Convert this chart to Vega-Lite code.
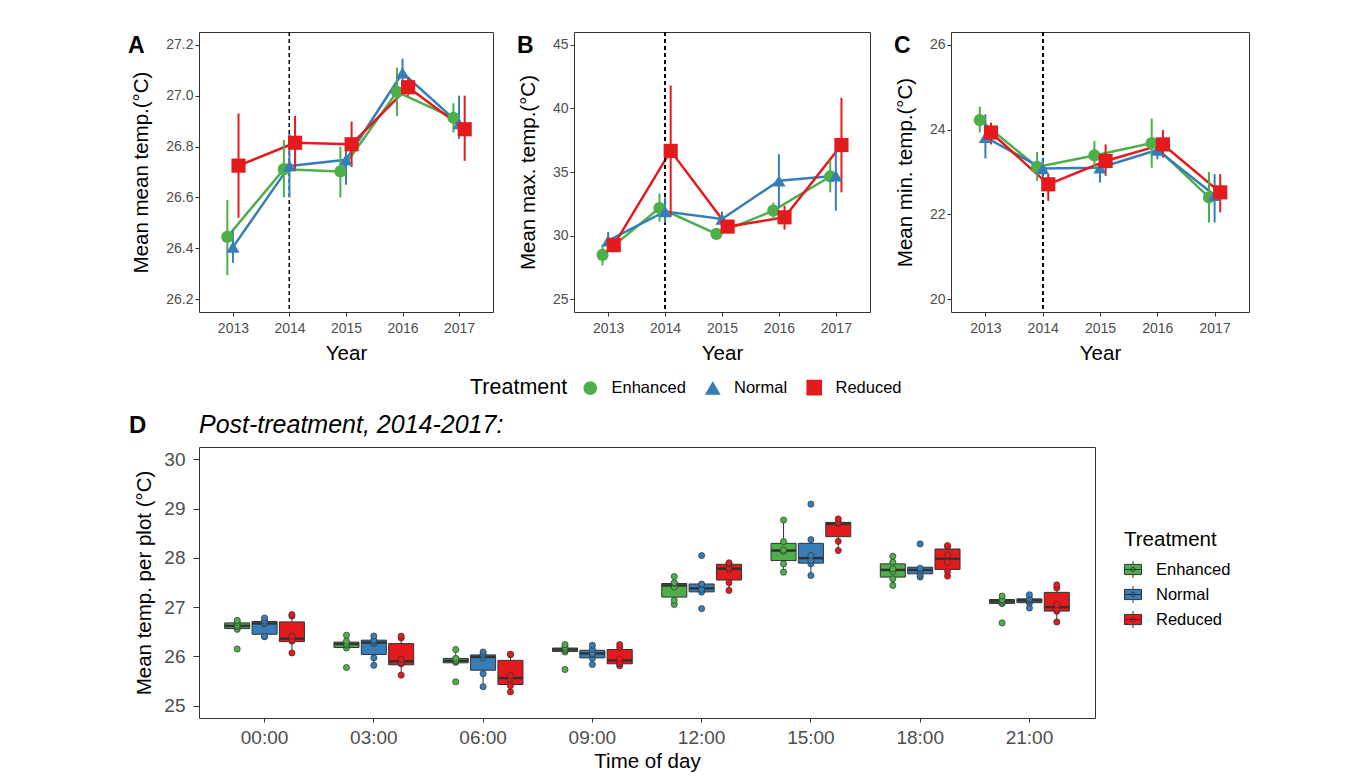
{
  "$schema": "https://vega.github.io/schema/vega-lite/v6.json",
  "padding": {"left": 127, "top": 31, "right": 5, "bottom": 2},
  "spacing": 13,
  "config": {
    "font": "Liberation Sans",
    "view": {"stroke": "#333333", "strokeWidth": 1},
    "axis": {"grid": false, "domain": false, "tickColor": "#333333", "tickSize": 4, "tickWidth": 1, "labelColor": "#4d4d4d", "labelFontSize": 14, "titleFontSize": 20.5, "titleFontWeight": "normal", "titleColor": "#000000", "labelFont": "Liberation Sans", "titleFont": "Liberation Sans"},
    "legend": {"labelFont": "Liberation Sans", "titleFont": "Liberation Sans"},
    "title": {"font": "Liberation Sans", "color": "#000000"}
  },
  "resolve": {"legend": {"color": "independent", "shape": "independent", "size": "independent", "fill": "independent"}, "scale": {"xOffset": "independent", "x": "independent", "y": "independent"}},
  "datasets": {
    "top": [
      {"panel": "A", "year": 2013, "Treatment": "Enhanced", "mean": 26.445, "lo": 26.295, "hi": 26.59},
      {"panel": "A", "year": 2013, "Treatment": "Normal", "mean": 26.405, "lo": 26.343, "hi": 26.47},
      {"panel": "A", "year": 2013, "Treatment": "Reduced", "mean": 26.725, "lo": 26.52, "hi": 26.93},
      {"panel": "A", "year": 2014, "Treatment": "Enhanced", "mean": 26.711, "lo": 26.6, "hi": 26.826},
      {"panel": "A", "year": 2014, "Treatment": "Normal", "mean": 26.724, "lo": 26.6, "hi": 26.852},
      {"panel": "A", "year": 2014, "Treatment": "Reduced", "mean": 26.815, "lo": 26.71, "hi": 26.92},
      {"panel": "A", "year": 2015, "Treatment": "Enhanced", "mean": 26.702, "lo": 26.6, "hi": 26.8},
      {"panel": "A", "year": 2015, "Treatment": "Normal", "mean": 26.748, "lo": 26.65, "hi": 26.81},
      {"panel": "A", "year": 2015, "Treatment": "Reduced", "mean": 26.809, "lo": 26.72, "hi": 26.898},
      {"panel": "A", "year": 2016, "Treatment": "Enhanced", "mean": 27.015, "lo": 26.92, "hi": 27.11},
      {"panel": "A", "year": 2016, "Treatment": "Normal", "mean": 27.09, "lo": 27.02, "hi": 27.145},
      {"panel": "A", "year": 2016, "Treatment": "Reduced", "mean": 27.033, "lo": 27.0, "hi": 27.07},
      {"panel": "A", "year": 2017, "Treatment": "Enhanced", "mean": 26.913, "lo": 26.855, "hi": 26.97},
      {"panel": "A", "year": 2017, "Treatment": "Normal", "mean": 26.89, "lo": 26.83, "hi": 27.0},
      {"panel": "A", "year": 2017, "Treatment": "Reduced", "mean": 26.868, "lo": 26.744, "hi": 27.0},
      {"panel": "B", "year": 2013, "Treatment": "Enhanced", "mean": 28.49, "lo": 27.66, "hi": 29.3},
      {"panel": "B", "year": 2013, "Treatment": "Normal", "mean": 29.6, "lo": 29.0, "hi": 30.3},
      {"panel": "B", "year": 2013, "Treatment": "Reduced", "mean": 29.25, "lo": 28.85, "hi": 29.65},
      {"panel": "B", "year": 2014, "Treatment": "Enhanced", "mean": 32.17, "lo": 31.1, "hi": 33.3},
      {"panel": "B", "year": 2014, "Treatment": "Normal", "mean": 31.9, "lo": 31.0, "hi": 33.0},
      {"panel": "B", "year": 2014, "Treatment": "Reduced", "mean": 36.66, "lo": 31.5, "hi": 41.8},
      {"panel": "B", "year": 2015, "Treatment": "Enhanced", "mean": 30.14, "lo": 29.85, "hi": 30.45},
      {"panel": "B", "year": 2015, "Treatment": "Normal", "mean": 31.31, "lo": 30.7, "hi": 31.9},
      {"panel": "B", "year": 2015, "Treatment": "Reduced", "mean": 30.71, "lo": 30.3, "hi": 31.1},
      {"panel": "B", "year": 2016, "Treatment": "Enhanced", "mean": 31.96, "lo": 31.3, "hi": 32.6},
      {"panel": "B", "year": 2016, "Treatment": "Normal", "mean": 34.31, "lo": 32.2, "hi": 36.39},
      {"panel": "B", "year": 2016, "Treatment": "Reduced", "mean": 31.44, "lo": 30.48, "hi": 32.35},
      {"panel": "B", "year": 2017, "Treatment": "Enhanced", "mean": 34.65, "lo": 33.4, "hi": 35.9},
      {"panel": "B", "year": 2017, "Treatment": "Normal", "mean": 34.7, "lo": 31.96, "hi": 37.4},
      {"panel": "B", "year": 2017, "Treatment": "Reduced", "mean": 37.12, "lo": 33.4, "hi": 40.83},
      {"panel": "C", "year": 2013, "Treatment": "Enhanced", "mean": 24.224, "lo": 23.93, "hi": 24.54},
      {"panel": "C", "year": 2013, "Treatment": "Normal", "mean": 23.82, "lo": 23.32, "hi": 24.36},
      {"panel": "C", "year": 2013, "Treatment": "Reduced", "mean": 23.93, "lo": 23.65, "hi": 24.16},
      {"panel": "C", "year": 2014, "Treatment": "Enhanced", "mean": 23.12, "lo": 22.79, "hi": 23.47},
      {"panel": "C", "year": 2014, "Treatment": "Normal", "mean": 23.08, "lo": 22.85, "hi": 23.34},
      {"panel": "C", "year": 2014, "Treatment": "Reduced", "mean": 22.71, "lo": 22.32, "hi": 22.95},
      {"panel": "C", "year": 2015, "Treatment": "Enhanced", "mean": 23.39, "lo": 23.07, "hi": 23.73},
      {"panel": "C", "year": 2015, "Treatment": "Normal", "mean": 23.1, "lo": 22.75, "hi": 23.38},
      {"panel": "C", "year": 2015, "Treatment": "Reduced", "mean": 23.26, "lo": 22.91, "hi": 23.65},
      {"panel": "C", "year": 2016, "Treatment": "Enhanced", "mean": 23.68, "lo": 23.1, "hi": 24.26},
      {"panel": "C", "year": 2016, "Treatment": "Normal", "mean": 23.52, "lo": 23.3, "hi": 23.73},
      {"panel": "C", "year": 2016, "Treatment": "Reduced", "mean": 23.65, "lo": 23.34, "hi": 23.99},
      {"panel": "C", "year": 2017, "Treatment": "Enhanced", "mean": 22.4, "lo": 21.81, "hi": 23.0},
      {"panel": "C", "year": 2017, "Treatment": "Normal", "mean": 22.45, "lo": 21.81, "hi": 22.95},
      {"panel": "C", "year": 2017, "Treatment": "Reduced", "mean": 22.52, "lo": 22.05, "hi": 22.95}
    ],
    "box": [
      {"time": "00:00", "Treatment": "Enhanced", "lo": 26.55, "q1": 26.565, "med": 26.62, "q3": 26.68, "hi": 26.73},
      {"time": "00:00", "Treatment": "Normal", "lo": 26.4, "q1": 26.45, "med": 26.67, "q3": 26.71, "hi": 26.78},
      {"time": "00:00", "Treatment": "Reduced", "lo": 26.07, "q1": 26.3, "med": 26.36, "q3": 26.7, "hi": 26.85},
      {"time": "03:00", "Treatment": "Enhanced", "lo": 26.17, "q1": 26.18, "med": 26.25, "q3": 26.29, "hi": 26.43},
      {"time": "03:00", "Treatment": "Normal", "lo": 25.82, "q1": 26.04, "med": 26.28, "q3": 26.33, "hi": 26.415},
      {"time": "03:00", "Treatment": "Reduced", "lo": 25.62, "q1": 25.83, "med": 25.9, "q3": 26.26, "hi": 26.41},
      {"time": "06:00", "Treatment": "Enhanced", "lo": 25.88, "q1": 25.87, "med": 25.91, "q3": 25.96, "hi": 26.13},
      {"time": "06:00", "Treatment": "Normal", "lo": 25.385, "q1": 25.72, "med": 25.99, "q3": 26.03, "hi": 26.09},
      {"time": "06:00", "Treatment": "Reduced", "lo": 25.28, "q1": 25.43, "med": 25.56, "q3": 25.92, "hi": 26.04},
      {"time": "09:00", "Treatment": "Enhanced", "lo": 26.09, "q1": 26.1, "med": 26.14, "q3": 26.17, "hi": 26.24},
      {"time": "09:00", "Treatment": "Normal", "lo": 25.836, "q1": 25.97, "med": 26.06, "q3": 26.125, "hi": 26.227},
      {"time": "09:00", "Treatment": "Reduced", "lo": 25.81, "q1": 25.85, "med": 25.92, "q3": 26.14, "hi": 26.24},
      {"time": "12:00", "Treatment": "Enhanced", "lo": 27.056, "q1": 27.204, "med": 27.44, "q3": 27.48, "hi": 27.622},
      {"time": "12:00", "Treatment": "Normal", "lo": 27.305, "q1": 27.31, "med": 27.38, "q3": 27.47, "hi": 27.467},
      {"time": "12:00", "Treatment": "Reduced", "lo": 27.34, "q1": 27.55, "med": 27.78, "q3": 27.87, "hi": 27.9},
      {"time": "15:00", "Treatment": "Enhanced", "lo": 27.71, "q1": 27.945, "med": 28.148, "q3": 28.295, "hi": 28.768},
      {"time": "15:00", "Treatment": "Normal", "lo": 27.642, "q1": 27.893, "med": 27.995, "q3": 28.295, "hi": 28.37},
      {"time": "15:00", "Treatment": "Reduced", "lo": 28.148, "q1": 28.43, "med": 28.69, "q3": 28.72, "hi": 28.79},
      {"time": "18:00", "Treatment": "Enhanced", "lo": 27.44, "q1": 27.61, "med": 27.755, "q3": 27.878, "hi": 28.033},
      {"time": "18:00", "Treatment": "Normal", "lo": 27.61, "q1": 27.676, "med": 27.755, "q3": 27.81, "hi": 27.79},
      {"time": "18:00", "Treatment": "Reduced", "lo": 27.63, "q1": 27.765, "med": 27.98, "q3": 28.18, "hi": 28.25},
      {"time": "21:00", "Treatment": "Enhanced", "lo": 27.07, "q1": 27.075, "med": 27.117, "q3": 27.155, "hi": 27.225},
      {"time": "21:00", "Treatment": "Normal", "lo": 27.083, "q1": 27.09, "med": 27.137, "q3": 27.168, "hi": 27.252},
      {"time": "21:00", "Treatment": "Reduced", "lo": 26.699, "q1": 26.92, "med": 27.0, "q3": 27.3, "hi": 27.454}
    ],
    "pts": [
      {"time": "00:00", "Treatment": "Enhanced", "value": 26.15}, {"time": "00:00", "Treatment": "Enhanced", "value": 26.55}, {"time": "00:00", "Treatment": "Enhanced", "value": 26.6}, {"time": "00:00", "Treatment": "Enhanced", "value": 26.63}, {"time": "00:00", "Treatment": "Enhanced", "value": 26.69}, {"time": "00:00", "Treatment": "Enhanced", "value": 26.73},
      {"time": "00:00", "Treatment": "Normal", "value": 26.4}, {"time": "00:00", "Treatment": "Normal", "value": 26.41}, {"time": "00:00", "Treatment": "Normal", "value": 26.66}, {"time": "00:00", "Treatment": "Normal", "value": 26.68}, {"time": "00:00", "Treatment": "Normal", "value": 26.72}, {"time": "00:00", "Treatment": "Normal", "value": 26.78},
      {"time": "00:00", "Treatment": "Reduced", "value": 26.07}, {"time": "00:00", "Treatment": "Reduced", "value": 26.31}, {"time": "00:00", "Treatment": "Reduced", "value": 26.33}, {"time": "00:00", "Treatment": "Reduced", "value": 26.41}, {"time": "00:00", "Treatment": "Reduced", "value": 26.82}, {"time": "00:00", "Treatment": "Reduced", "value": 26.85},
      {"time": "03:00", "Treatment": "Enhanced", "value": 25.775}, {"time": "03:00", "Treatment": "Enhanced", "value": 26.17}, {"time": "03:00", "Treatment": "Enhanced", "value": 26.23}, {"time": "03:00", "Treatment": "Enhanced", "value": 26.26}, {"time": "03:00", "Treatment": "Enhanced", "value": 26.31}, {"time": "03:00", "Treatment": "Enhanced", "value": 26.43},
      {"time": "03:00", "Treatment": "Normal", "value": 25.82}, {"time": "03:00", "Treatment": "Normal", "value": 25.97}, {"time": "03:00", "Treatment": "Normal", "value": 26.26}, {"time": "03:00", "Treatment": "Normal", "value": 26.295}, {"time": "03:00", "Treatment": "Normal", "value": 26.33}, {"time": "03:00", "Treatment": "Normal", "value": 26.415},
      {"time": "03:00", "Treatment": "Reduced", "value": 25.62}, {"time": "03:00", "Treatment": "Reduced", "value": 25.85}, {"time": "03:00", "Treatment": "Reduced", "value": 25.87}, {"time": "03:00", "Treatment": "Reduced", "value": 25.94}, {"time": "03:00", "Treatment": "Reduced", "value": 26.375}, {"time": "03:00", "Treatment": "Reduced", "value": 26.41},
      {"time": "06:00", "Treatment": "Enhanced", "value": 25.485}, {"time": "06:00", "Treatment": "Enhanced", "value": 25.88}, {"time": "06:00", "Treatment": "Enhanced", "value": 25.9}, {"time": "06:00", "Treatment": "Enhanced", "value": 25.92}, {"time": "06:00", "Treatment": "Enhanced", "value": 25.96}, {"time": "06:00", "Treatment": "Enhanced", "value": 26.14},
      {"time": "06:00", "Treatment": "Normal", "value": 25.385}, {"time": "06:00", "Treatment": "Normal", "value": 25.65}, {"time": "06:00", "Treatment": "Normal", "value": 25.97}, {"time": "06:00", "Treatment": "Normal", "value": 26.025}, {"time": "06:00", "Treatment": "Normal", "value": 26.04}, {"time": "06:00", "Treatment": "Normal", "value": 26.09},
      {"time": "06:00", "Treatment": "Reduced", "value": 25.28}, {"time": "06:00", "Treatment": "Reduced", "value": 25.405}, {"time": "06:00", "Treatment": "Reduced", "value": 25.54}, {"time": "06:00", "Treatment": "Reduced", "value": 25.61}, {"time": "06:00", "Treatment": "Reduced", "value": 26.035}, {"time": "06:00", "Treatment": "Reduced", "value": 26.045},
      {"time": "09:00", "Treatment": "Enhanced", "value": 25.735}, {"time": "09:00", "Treatment": "Enhanced", "value": 26.09}, {"time": "09:00", "Treatment": "Enhanced", "value": 26.125}, {"time": "09:00", "Treatment": "Enhanced", "value": 26.15}, {"time": "09:00", "Treatment": "Enhanced", "value": 26.19}, {"time": "09:00", "Treatment": "Enhanced", "value": 26.24},
      {"time": "09:00", "Treatment": "Normal", "value": 25.836}, {"time": "09:00", "Treatment": "Normal", "value": 25.96}, {"time": "09:00", "Treatment": "Normal", "value": 26.04}, {"time": "09:00", "Treatment": "Normal", "value": 26.06}, {"time": "09:00", "Treatment": "Normal", "value": 26.146}, {"time": "09:00", "Treatment": "Normal", "value": 26.227},
      {"time": "09:00", "Treatment": "Reduced", "value": 25.81}, {"time": "09:00", "Treatment": "Reduced", "value": 25.85}, {"time": "09:00", "Treatment": "Reduced", "value": 25.89}, {"time": "09:00", "Treatment": "Reduced", "value": 25.95}, {"time": "09:00", "Treatment": "Reduced", "value": 26.18}, {"time": "09:00", "Treatment": "Reduced", "value": 26.24},
      {"time": "12:00", "Treatment": "Enhanced", "value": 27.056}, {"time": "12:00", "Treatment": "Enhanced", "value": 27.137}, {"time": "12:00", "Treatment": "Enhanced", "value": 27.406}, {"time": "12:00", "Treatment": "Enhanced", "value": 27.48}, {"time": "12:00", "Treatment": "Enhanced", "value": 27.494}, {"time": "12:00", "Treatment": "Enhanced", "value": 27.622},
      {"time": "12:00", "Treatment": "Normal", "value": 26.97}, {"time": "12:00", "Treatment": "Normal", "value": 27.305}, {"time": "12:00", "Treatment": "Normal", "value": 27.36}, {"time": "12:00", "Treatment": "Normal", "value": 27.454}, {"time": "12:00", "Treatment": "Normal", "value": 27.467}, {"time": "12:00", "Treatment": "Normal", "value": 28.047},
      {"time": "12:00", "Treatment": "Reduced", "value": 27.34}, {"time": "12:00", "Treatment": "Reduced", "value": 27.494}, {"time": "12:00", "Treatment": "Reduced", "value": 27.764}, {"time": "12:00", "Treatment": "Reduced", "value": 27.79}, {"time": "12:00", "Treatment": "Reduced", "value": 27.88}, {"time": "12:00", "Treatment": "Reduced", "value": 27.9},
      {"time": "15:00", "Treatment": "Enhanced", "value": 27.71}, {"time": "15:00", "Treatment": "Enhanced", "value": 27.878}, {"time": "15:00", "Treatment": "Enhanced", "value": 28.13}, {"time": "15:00", "Treatment": "Enhanced", "value": 28.16}, {"time": "15:00", "Treatment": "Enhanced", "value": 28.33}, {"time": "15:00", "Treatment": "Enhanced", "value": 28.768},
      {"time": "15:00", "Treatment": "Normal", "value": 27.642}, {"time": "15:00", "Treatment": "Normal", "value": 27.878}, {"time": "15:00", "Treatment": "Normal", "value": 27.946}, {"time": "15:00", "Treatment": "Normal", "value": 28.047}, {"time": "15:00", "Treatment": "Normal", "value": 28.37}, {"time": "15:00", "Treatment": "Normal", "value": 29.09},
      {"time": "15:00", "Treatment": "Reduced", "value": 28.148}, {"time": "15:00", "Treatment": "Reduced", "value": 28.336}, {"time": "15:00", "Treatment": "Reduced", "value": 28.7}, {"time": "15:00", "Treatment": "Reduced", "value": 28.707}, {"time": "15:00", "Treatment": "Reduced", "value": 28.72}, {"time": "15:00", "Treatment": "Reduced", "value": 28.79},
      {"time": "18:00", "Treatment": "Enhanced", "value": 27.44}, {"time": "18:00", "Treatment": "Enhanced", "value": 27.575}, {"time": "18:00", "Treatment": "Enhanced", "value": 27.723}, {"time": "18:00", "Treatment": "Enhanced", "value": 27.777}, {"time": "18:00", "Treatment": "Enhanced", "value": 27.912}, {"time": "18:00", "Treatment": "Enhanced", "value": 28.033},
      {"time": "18:00", "Treatment": "Normal", "value": 27.61}, {"time": "18:00", "Treatment": "Normal", "value": 27.656}, {"time": "18:00", "Treatment": "Normal", "value": 27.73}, {"time": "18:00", "Treatment": "Normal", "value": 27.77}, {"time": "18:00", "Treatment": "Normal", "value": 27.79}, {"time": "18:00", "Treatment": "Normal", "value": 28.283},
      {"time": "18:00", "Treatment": "Reduced", "value": 27.63}, {"time": "18:00", "Treatment": "Reduced", "value": 27.723}, {"time": "18:00", "Treatment": "Reduced", "value": 27.912}, {"time": "18:00", "Treatment": "Reduced", "value": 28.06}, {"time": "18:00", "Treatment": "Reduced", "value": 28.23}, {"time": "18:00", "Treatment": "Reduced", "value": 28.25},
      {"time": "21:00", "Treatment": "Enhanced", "value": 26.68}, {"time": "21:00", "Treatment": "Enhanced", "value": 27.07}, {"time": "21:00", "Treatment": "Enhanced", "value": 27.1}, {"time": "21:00", "Treatment": "Enhanced", "value": 27.137}, {"time": "21:00", "Treatment": "Enhanced", "value": 27.15}, {"time": "21:00", "Treatment": "Enhanced", "value": 27.225},
      {"time": "21:00", "Treatment": "Normal", "value": 26.982}, {"time": "21:00", "Treatment": "Normal", "value": 27.083}, {"time": "21:00", "Treatment": "Normal", "value": 27.12}, {"time": "21:00", "Treatment": "Normal", "value": 27.15}, {"time": "21:00", "Treatment": "Normal", "value": 27.17}, {"time": "21:00", "Treatment": "Normal", "value": 27.252},
      {"time": "21:00", "Treatment": "Reduced", "value": 26.699}, {"time": "21:00", "Treatment": "Reduced", "value": 26.915}, {"time": "21:00", "Treatment": "Reduced", "value": 26.955}, {"time": "21:00", "Treatment": "Reduced", "value": 27.05}, {"time": "21:00", "Treatment": "Reduced", "value": 27.387}, {"time": "21:00", "Treatment": "Reduced", "value": 27.454}
    ]
  },
  "vconcat": [
    {
      "hconcat": [
        {
          "width": 294, "height": 280,
          "title": {"text": "A", "anchor": "start", "frame": "group", "fontSize": 23, "fontWeight": "bold", "offset": -44, "baseline": "alphabetic", "dx": -71},
          "data": {"name": "top"},
          "transform": [{"filter": "datum.panel === 'A'"}],
          "layer": [
            {"mark": {"type": "line", "strokeWidth": 2.5}, "encoding": {
              "x": {"field": "year", "type": "ordinal", "scale": {"type": "point", "padding": 0.6}, "axis": {"title": "Year", "labelAngle": 0, "labelPadding": 5, "titlePadding": 8}},
              "xOffset": {"field": "Treatment", "type": "nominal", "scale": {"type": "point", "range": [-5.6, 5.6], "padding": 0}},
              "y": {"field": "mean", "type": "quantitative", "scale": {"domain": [26.15, 27.25], "nice": false, "zero": false}, "axis": {"title": "Mean mean temp.(°C)", "values": [26.2, 26.4, 26.6, 26.8, 27.0, 27.2], "format": ".1f", "labelPadding": 2, "titlePadding": 14}},
              "color": {"field": "Treatment", "type": "nominal", "scale": {"domain": ["Enhanced", "Normal", "Reduced"], "range": ["#4DAF4A", "#377EB8", "#E41A1C"]}, "legend": {"orient": "none", "legendX": 271, "legendY": 347, "direction": "horizontal", "titleOrient": "left", "title": "Treatment", "titleFontSize": 21.5, "titleFontWeight": "normal", "titleColor": "#000000", "labelFontSize": 16.5, "labelColor": "#000000", "columnPadding": 16.5, "labelOffset": 13, "titlePadding": 14}}}},
            {"mark": {"type": "rule", "color": "#000000", "strokeDash": [4, 3], "strokeWidth": 1}, "encoding": {"x": {"datum": 2014, "type": "ordinal", "scale": {"type": "point", "padding": 0.6}}}},
            {"mark": {"type": "rule", "strokeWidth": 2}, "encoding": {"x": {"field": "year", "type": "ordinal", "scale": {"type": "point", "padding": 0.6}}, "xOffset": {"field": "Treatment", "type": "nominal", "scale": {"type": "point", "range": [-5.6, 5.6], "padding": 0}}, "y": {"field": "lo", "type": "quantitative"}, "y2": {"field": "hi"}, "color": {"field": "Treatment", "type": "nominal", "legend": {"orient": "none", "legendX": 271, "legendY": 347, "direction": "horizontal", "titleOrient": "left", "title": "Treatment", "titleFontSize": 21.5, "titleFontWeight": "normal", "titleColor": "#000000", "labelFontSize": 16.5, "labelColor": "#000000", "columnPadding": 16.5, "labelOffset": 13, "titlePadding": 14}}}},
            {"mark": {"type": "point", "filled": true, "opacity": 1}, "encoding": {"x": {"field": "year", "type": "ordinal", "scale": {"type": "point", "padding": 0.6}}, "xOffset": {"field": "Treatment", "type": "nominal", "scale": {"type": "point", "range": [-5.6, 5.6], "padding": 0}}, "y": {"field": "mean", "type": "quantitative"},
              "color": {"field": "Treatment", "type": "nominal", "legend": {"orient": "none", "legendX": 271, "legendY": 347, "direction": "horizontal", "titleOrient": "left", "title": "Treatment", "titleFontSize": 21.5, "titleFontWeight": "normal", "titleColor": "#000000", "labelFontSize": 16.5, "labelColor": "#000000", "columnPadding": 16.5, "labelOffset": 13, "titlePadding": 14}},
              "shape": {"field": "Treatment", "type": "nominal", "scale": {"domain": ["Enhanced", "Normal", "Reduced"], "range": ["circle", "triangle-up", "square"]}, "legend": {"orient": "none", "legendX": 271, "legendY": 347, "direction": "horizontal", "titleOrient": "left", "title": "Treatment", "titleFontSize": 21.5, "titleFontWeight": "normal", "titleColor": "#000000", "labelFontSize": 16.5, "labelColor": "#000000", "columnPadding": 16.5, "labelOffset": 13, "titlePadding": 14}},
              "size": {"field": "Treatment", "type": "nominal", "scale": {"domain": ["Enhanced", "Normal", "Reduced"], "range": [150, 200, 240]}, "legend": {"orient": "none", "legendX": 271, "legendY": 347, "direction": "horizontal", "titleOrient": "left", "title": "Treatment", "titleFontSize": 21.5, "titleFontWeight": "normal", "titleColor": "#000000", "labelFontSize": 16.5, "labelColor": "#000000", "columnPadding": 16.5, "labelOffset": 13, "titlePadding": 14}}}}
          ]
        },
        {
          "width": 296, "height": 280,
          "title": {"text": "B", "anchor": "start", "frame": "group", "fontSize": 23, "fontWeight": "bold", "offset": -44, "baseline": "alphabetic", "dx": -57},
          "data": {"name": "top"},
          "transform": [{"filter": "datum.panel === 'B'"}],
          "layer": [
            {"mark": {"type": "line", "strokeWidth": 2.5}, "encoding": {
              "x": {"field": "year", "type": "ordinal", "scale": {"type": "point", "padding": 0.6}, "axis": {"title": "Year", "labelAngle": 0, "labelPadding": 5, "titlePadding": 8}},
              "xOffset": {"field": "Treatment", "type": "nominal", "scale": {"type": "point", "range": [-5.6, 5.6], "padding": 0}},
              "y": {"field": "mean", "type": "quantitative", "scale": {"domain": [24, 46], "nice": false, "zero": false}, "axis": {"title": "Mean max. temp.(°C)", "values": [25, 30, 35, 40, 45], "labelPadding": 2, "titlePadding": 14}},
              "color": {"field": "Treatment", "type": "nominal", "scale": {"domain": ["Enhanced", "Normal", "Reduced"], "range": ["#4DAF4A", "#377EB8", "#E41A1C"]}, "legend": {"orient": "none", "legendX": 271, "legendY": 347, "direction": "horizontal", "titleOrient": "left", "title": "Treatment", "titleFontSize": 21.5, "titleFontWeight": "normal", "titleColor": "#000000", "labelFontSize": 16.5, "labelColor": "#000000", "columnPadding": 16.5, "labelOffset": 13, "titlePadding": 14}}}},
            {"mark": {"type": "rule", "color": "#000000", "strokeDash": [4, 3], "strokeWidth": 1}, "encoding": {"x": {"datum": 2014, "type": "ordinal", "scale": {"type": "point", "padding": 0.6}}}},
            {"mark": {"type": "rule", "strokeWidth": 2}, "encoding": {"x": {"field": "year", "type": "ordinal", "scale": {"type": "point", "padding": 0.6}}, "xOffset": {"field": "Treatment", "type": "nominal", "scale": {"type": "point", "range": [-5.6, 5.6], "padding": 0}}, "y": {"field": "lo", "type": "quantitative"}, "y2": {"field": "hi"}, "color": {"field": "Treatment", "type": "nominal", "legend": {"orient": "none", "legendX": 271, "legendY": 347, "direction": "horizontal", "titleOrient": "left", "title": "Treatment", "titleFontSize": 21.5, "titleFontWeight": "normal", "titleColor": "#000000", "labelFontSize": 16.5, "labelColor": "#000000", "columnPadding": 16.5, "labelOffset": 13, "titlePadding": 14}}}},
            {"mark": {"type": "point", "filled": true, "opacity": 1}, "encoding": {"x": {"field": "year", "type": "ordinal", "scale": {"type": "point", "padding": 0.6}}, "xOffset": {"field": "Treatment", "type": "nominal", "scale": {"type": "point", "range": [-5.6, 5.6], "padding": 0}}, "y": {"field": "mean", "type": "quantitative"},
              "color": {"field": "Treatment", "type": "nominal", "legend": {"orient": "none", "legendX": 271, "legendY": 347, "direction": "horizontal", "titleOrient": "left", "title": "Treatment", "titleFontSize": 21.5, "titleFontWeight": "normal", "titleColor": "#000000", "labelFontSize": 16.5, "labelColor": "#000000", "columnPadding": 16.5, "labelOffset": 13, "titlePadding": 14}},
              "shape": {"field": "Treatment", "type": "nominal", "scale": {"domain": ["Enhanced", "Normal", "Reduced"], "range": ["circle", "triangle-up", "square"]}, "legend": {"orient": "none", "legendX": 271, "legendY": 347, "direction": "horizontal", "titleOrient": "left", "title": "Treatment", "titleFontSize": 21.5, "titleFontWeight": "normal", "titleColor": "#000000", "labelFontSize": 16.5, "labelColor": "#000000", "columnPadding": 16.5, "labelOffset": 13, "titlePadding": 14}},
              "size": {"field": "Treatment", "type": "nominal", "scale": {"domain": ["Enhanced", "Normal", "Reduced"], "range": [150, 200, 240]}, "legend": {"orient": "none", "legendX": 271, "legendY": 347, "direction": "horizontal", "titleOrient": "left", "title": "Treatment", "titleFontSize": 21.5, "titleFontWeight": "normal", "titleColor": "#000000", "labelFontSize": 16.5, "labelColor": "#000000", "columnPadding": 16.5, "labelOffset": 13, "titlePadding": 14}}}}
          ]
        },
        {
          "width": 298, "height": 280,
          "title": {"text": "C", "anchor": "start", "frame": "group", "fontSize": 23, "fontWeight": "bold", "offset": -44, "baseline": "alphabetic", "dx": -57},
          "data": {"name": "top"},
          "transform": [{"filter": "datum.panel === 'C'"}],
          "layer": [
            {"mark": {"type": "line", "strokeWidth": 2.5}, "encoding": {
              "x": {"field": "year", "type": "ordinal", "scale": {"type": "point", "padding": 0.6}, "axis": {"title": "Year", "labelAngle": 0, "labelPadding": 5, "titlePadding": 8}},
              "xOffset": {"field": "Treatment", "type": "nominal", "scale": {"type": "point", "range": [-5.6, 5.6], "padding": 0}},
              "y": {"field": "mean", "type": "quantitative", "scale": {"domain": [19.7, 26.3], "nice": false, "zero": false}, "axis": {"title": "Mean min. temp.(°C)", "values": [20, 22, 24, 26], "labelPadding": 2, "titlePadding": 14}},
              "color": {"field": "Treatment", "type": "nominal", "scale": {"domain": ["Enhanced", "Normal", "Reduced"], "range": ["#4DAF4A", "#377EB8", "#E41A1C"]}, "legend": {"orient": "none", "legendX": 271, "legendY": 347, "direction": "horizontal", "titleOrient": "left", "title": "Treatment", "titleFontSize": 21.5, "titleFontWeight": "normal", "titleColor": "#000000", "labelFontSize": 16.5, "labelColor": "#000000", "columnPadding": 16.5, "labelOffset": 13, "titlePadding": 14}}}},
            {"mark": {"type": "rule", "color": "#000000", "strokeDash": [4, 3], "strokeWidth": 1}, "encoding": {"x": {"datum": 2014, "type": "ordinal", "scale": {"type": "point", "padding": 0.6}}}},
            {"mark": {"type": "rule", "strokeWidth": 2}, "encoding": {"x": {"field": "year", "type": "ordinal", "scale": {"type": "point", "padding": 0.6}}, "xOffset": {"field": "Treatment", "type": "nominal", "scale": {"type": "point", "range": [-5.6, 5.6], "padding": 0}}, "y": {"field": "lo", "type": "quantitative"}, "y2": {"field": "hi"}, "color": {"field": "Treatment", "type": "nominal", "legend": {"orient": "none", "legendX": 271, "legendY": 347, "direction": "horizontal", "titleOrient": "left", "title": "Treatment", "titleFontSize": 21.5, "titleFontWeight": "normal", "titleColor": "#000000", "labelFontSize": 16.5, "labelColor": "#000000", "columnPadding": 16.5, "labelOffset": 13, "titlePadding": 14}}}},
            {"mark": {"type": "point", "filled": true, "opacity": 1}, "encoding": {"x": {"field": "year", "type": "ordinal", "scale": {"type": "point", "padding": 0.6}}, "xOffset": {"field": "Treatment", "type": "nominal", "scale": {"type": "point", "range": [-5.6, 5.6], "padding": 0}}, "y": {"field": "mean", "type": "quantitative"},
              "color": {"field": "Treatment", "type": "nominal", "legend": {"orient": "none", "legendX": 271, "legendY": 347, "direction": "horizontal", "titleOrient": "left", "title": "Treatment", "titleFontSize": 21.5, "titleFontWeight": "normal", "titleColor": "#000000", "labelFontSize": 16.5, "labelColor": "#000000", "columnPadding": 16.5, "labelOffset": 13, "titlePadding": 14}},
              "shape": {"field": "Treatment", "type": "nominal", "scale": {"domain": ["Enhanced", "Normal", "Reduced"], "range": ["circle", "triangle-up", "square"]}, "legend": {"orient": "none", "legendX": 271, "legendY": 347, "direction": "horizontal", "titleOrient": "left", "title": "Treatment", "titleFontSize": 21.5, "titleFontWeight": "normal", "titleColor": "#000000", "labelFontSize": 16.5, "labelColor": "#000000", "columnPadding": 16.5, "labelOffset": 13, "titlePadding": 14}},
              "size": {"field": "Treatment", "type": "nominal", "scale": {"domain": ["Enhanced", "Normal", "Reduced"], "range": [150, 200, 240]}, "legend": {"orient": "none", "legendX": 271, "legendY": 347, "direction": "horizontal", "titleOrient": "left", "title": "Treatment", "titleFontSize": 21.5, "titleFontWeight": "normal", "titleColor": "#000000", "labelFontSize": 16.5, "labelColor": "#000000", "columnPadding": 16.5, "labelOffset": 13, "titlePadding": 14}}}}
          ]
        }
      ],
      "spacing": 22
    },
    {
      "vconcat": [
        {
          "width": 896, "height": 271,
          "title": {"text": "Post-treatment, 2014-2017:", "anchor": "start", "frame": "group", "fontSize": 25, "fontStyle": "italic", "fontWeight": "normal", "offset": -11, "baseline": "alphabetic"},
          "layer": [
            {"data": {"name": "box"}, "mark": {"type": "rule", "color": "#333333", "strokeWidth": 1}, "encoding": {
              "x": {"field": "time", "type": "ordinal", "sort": ["00:00", "03:00", "06:00", "09:00", "12:00", "15:00", "18:00", "21:00"], "scale": {"type": "band", "paddingInner": 0, "paddingOuter": 0.1}, "axis": {"title": "Time of day", "labelAngle": 0, "labelFontSize": 19, "titleFontSize": 20.5, "labelPadding": 6, "titlePadding": 4}},
              "xOffset": {"field": "Treatment", "type": "nominal", "scale": {"type": "band", "paddingInner": 0.085, "paddingOuter": 0.54}},
              "y": {"field": "lo", "type": "quantitative", "scale": {"domain": [24.75, 30.25], "nice": false, "zero": false}, "axis": {"title": "Mean temp. per plot  (°C)", "values": [25, 26, 27, 28, 29, 30], "labelFontSize": 19, "titleFontSize": 20.5, "tickSize": 6, "labelPadding": 8, "titlePadding": 9}}, "y2": {"field": "hi"}}},
            {"data": {"name": "box"}, "mark": {"type": "bar", "stroke": "#333333", "strokeWidth": 1, "opacity": 1}, "encoding": {
              "x": {"field": "time", "type": "ordinal", "sort": ["00:00", "03:00", "06:00", "09:00", "12:00", "15:00", "18:00", "21:00"], "scale": {"type": "band", "paddingInner": 0, "paddingOuter": 0.1}},
              "xOffset": {"field": "Treatment", "type": "nominal", "scale": {"type": "band", "paddingInner": 0.085, "paddingOuter": 0.54}},
              "y": {"field": "q1", "type": "quantitative"}, "y2": {"field": "q3"},
              "fill": {"field": "Treatment", "type": "nominal", "scale": {"domain": ["Enhanced", "Normal", "Reduced"], "range": ["#4DAF4A", "#377EB8", "#E41A1C"]}, "legend": {"orient": "none", "legendX": 925, "legendY": 83, "title": "Treatment", "titleFontSize": 20.5, "titleFontWeight": "normal", "titleColor": "#000000", "labelFontSize": 16.5, "labelColor": "#000000", "symbolType": "M-1,-0.6H1V0.6H-1Z M-1,0H1 M0,-0.6V-1 M0,0.6V1 M0.25,0A0.25,0.25,0,1,1,-0.25,0A0.25,0.25,0,1,1,0.25,0", "symbolSize": 289, "symbolStrokeColor": "#333333", "symbolStrokeWidth": 1, "rowPadding": 3, "labelOffset": 14, "titlePadding": 10}}}},
            {"data": {"name": "box"}, "mark": {"type": "tick", "color": "#333333", "thickness": 2.5, "size": 25, "orient": "horizontal", "opacity": 1}, "encoding": {
              "x": {"field": "time", "type": "ordinal", "sort": ["00:00", "03:00", "06:00", "09:00", "12:00", "15:00", "18:00", "21:00"], "scale": {"type": "band", "paddingInner": 0, "paddingOuter": 0.1}},
              "xOffset": {"field": "Treatment", "type": "nominal", "scale": {"type": "band", "paddingInner": 0.085, "paddingOuter": 0.54}},
              "y": {"field": "med", "type": "quantitative"}}},
            {"data": {"name": "pts"}, "mark": {"type": "point", "filled": true, "stroke": "#333333", "strokeWidth": 0.7, "size": 38, "opacity": 1}, "encoding": {
              "x": {"field": "time", "type": "ordinal", "sort": ["00:00", "03:00", "06:00", "09:00", "12:00", "15:00", "18:00", "21:00"], "scale": {"type": "band", "paddingInner": 0, "paddingOuter": 0.1}},
              "xOffset": {"field": "Treatment", "type": "nominal", "scale": {"type": "band", "paddingInner": 0.085, "paddingOuter": 0.54}},
              "y": {"field": "value", "type": "quantitative"},
              "fill": {"field": "Treatment", "type": "nominal", "legend": {"orient": "none", "legendX": 925, "legendY": 83, "title": "Treatment", "titleFontSize": 20.5, "titleFontWeight": "normal", "titleColor": "#000000", "labelFontSize": 16.5, "labelColor": "#000000", "symbolType": "M-1,-0.6H1V0.6H-1Z M-1,0H1 M0,-0.6V-1 M0,0.6V1 M0.25,0A0.25,0.25,0,1,1,-0.25,0A0.25,0.25,0,1,1,0.25,0", "symbolSize": 289, "symbolStrokeColor": "#333333", "symbolStrokeWidth": 1, "rowPadding": 3, "labelOffset": 14, "titlePadding": 10}}}}
          ]
        }
      ],
      "title": {"text": "D", "anchor": "start", "frame": "group", "fontSize": 24, "fontWeight": "bold", "offset": -44, "baseline": "alphabetic", "dx": -70},
      "resolve": {"legend": {"fill": "independent"}}
    }
  ]
}
